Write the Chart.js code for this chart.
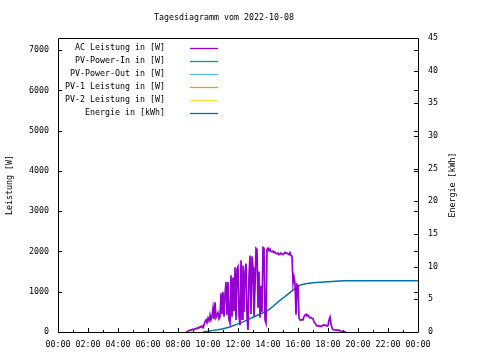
<!DOCTYPE html>
<html>
<head>
<meta charset="utf-8">
<script src="https://cdn.jsdelivr.net/npm/chart.js@4/dist/chart.umd.min.js"></script>
<style>
  html, body { margin: 0; padding: 0; background: #fff; }
  #c { display: block; }
</style>
</head>
<body>
<canvas id="c" width="480" height="360"></canvas>
<script>
// ---- data ----
const chartTitle = 'Tagesdiagramm vom 2022-10-08';
const leftAxisTitle = 'Leistung [W]';
const rightAxisTitle = 'Energie [kWh]';
const seriesLabels = [
  'AC Leistung in [W]',
  'PV-Power-In in [W]',
  'PV-Power-Out in [W]',
  'PV-1 Leistung in [W]',
  'PV-2 Leistung in [W]',
  'Energie in [kWh]'
];
const seriesColors = ['#9400d3', '#009e73', '#56b4e9', '#e69f00', '#f0e442', '#0072b2'];
const xTickMinutes = [0,120,240,360,480,600,720,840,960,1080,1200,1320,1440];
const leftTicks = [0,1000,2000,3000,4000,5000,6000,7000];
const rightTicks = [0,5,10,15,20,25,30,35,40,45];

// AC power, sampled every 4 minutes from 08:32
const acStartMinute = 512;
const acStepMinutes = 4;
const acValues = [
  0,10,20,30,50,40,60,70,60,80,90,80,110,100,130,120,150,110,170,
  260,300,230,340,280,420,300,380,590,320,740,360,420,480,330,380,
  960,450,990,380,930,1240,420,1240,300,220,1410,380,1350,520,1610,
  300,1560,1620,420,170,1780,320,1650,500,1500,1700,380,50,1400,1900,
  450,1880,1600,400,1100,2080,2050,600,1500,355,1150,500,2100,2080,300,
  220,2050,2080,2020,2060,2000,1990,2010,1970,1980,1950,1940,1960,1920,
  1930,1960,1940,1920,1950,1980,1950,1960,1940,1920,1970,1900,1880,1210,
  1360,1200,430,1180,1150,350,300,290,310,300,380,420,440,400,420,380,
  350,360,340,330,250,220,180,150,160,140,150,130,150,170,180,160,170,
  150,160,300,370,200,100,60,50,50,40,50,40,50,30,20,10,15,10,5,0
];

// cumulative energy (kWh)
const energyMinutes = [580,600,620,640,660,680,700,720,740,760,780,800,820,840,860,880,900,920,940,956,970,990,1020,1050,1080,1110,1140,1440];
const energyValues  = [0,0.1,0.25,0.35,0.5,0.7,0.95,1.25,1.55,1.9,2.25,2.6,2.95,3.3,3.9,4.6,5.2,5.8,6.4,6.9,7.2,7.4,7.55,7.62,7.7,7.78,7.85,7.85];

const leftMax = 7300;
const rightMax = 45;

// ---- build ----
const acData = acValues.map((v, i) => ({ x: acStartMinute + i * acStepMinutes, y: v }));
const energyData = energyValues.map((v, i) => ({ x: energyMinutes[i], y: v }));

const FONT = '"DejaVu Sans Mono", "Liberation Mono", monospace';
const FSIZE = 8.3;

function fmtTime(m) {
  const h = Math.floor(m / 60) % 24;
  const mm = m % 60;
  return String(h).padStart(2, '0') + ':' + String(mm).padStart(2, '0');
}

const datasets = seriesLabels.map((lbl, i) => ({
  label: lbl,
  data: i === 0 ? acData : (i === 5 ? energyData : []),
  borderColor: seriesColors[i],
  backgroundColor: seriesColors[i],
  borderWidth: i === 0 ? 1.7 : 1.5,
  pointRadius: 0,
  tension: 0,
  fill: false,
  yAxisID: i === 5 ? 'y2' : 'y'
}));

const framePlugin = {
  id: 'frame',
  afterDraw(chart) {
    const ctx = chart.ctx;
    const a = chart.chartArea;
    const xs = chart.scales.x, ys = chart.scales.y, y2 = chart.scales.y2;
    ctx.save();
    ctx.strokeStyle = '#000';
    ctx.lineWidth = 1;
    ctx.beginPath();
    ctx.rect(Math.round(a.left) + 0.5, Math.round(a.top) + 0.5,
             Math.round(a.right - a.left), Math.round(a.bottom - a.top));
    ctx.stroke();
    // x ticks (inward), major every 2h, minor every hour
    ctx.beginPath();
    for (let h = 0; h <= 24; h++) {
      const px = Math.round(xs.getPixelForValue(h * 60)) + 0.5;
      const len = (h % 2 === 0) ? 4 : 2;
      ctx.moveTo(px, a.bottom);
      ctx.lineTo(px, a.bottom - len);
    }
    // left ticks + mirror
    leftTicks.forEach(v => {
      const py = Math.round(ys.getPixelForValue(v)) + 0.5;
      ctx.moveTo(a.left, py); ctx.lineTo(a.left + 4, py);
      ctx.moveTo(a.right, py); ctx.lineTo(a.right - 4, py);
    });
    rightTicks.forEach(v => {
      const py = Math.round(y2.getPixelForValue(v)) + 0.5;
      ctx.moveTo(a.right, py); ctx.lineTo(a.right - 4, py);
    });
    ctx.stroke();

    // title
    ctx.fillStyle = '#000';
    ctx.font = FSIZE + 'px ' + FONT;
    ctx.textAlign = 'center';
    ctx.textBaseline = 'middle';
    ctx.fillText(chartTitle, 224, 18);

    // axis titles (rotated, reading bottom-to-top)
    ctx.save();
    ctx.translate(10, (a.top + a.bottom) / 2);
    ctx.rotate(-Math.PI / 2);
    ctx.fillText(leftAxisTitle, 0, 0);
    ctx.restore();
    ctx.save();
    ctx.translate(453, (a.top + a.bottom) / 2);
    ctx.rotate(-Math.PI / 2);
    ctx.fillText(rightAxisTitle, 0, 0);
    ctx.restore();

    // legend (gnuplot style: right-aligned text, then line sample)
    ctx.textAlign = 'right';
    chart.data.datasets.forEach((ds, i) => {
      const yy = a.top + 10 + i * 13;
      ctx.fillStyle = '#000';
      ctx.fillText(ds.label, 165, yy);
      ctx.strokeStyle = ds.borderColor;
      ctx.lineWidth = 1.3;
      ctx.beginPath();
      ctx.moveTo(190, Math.round(yy) + 0.5);
      ctx.lineTo(218, Math.round(yy) + 0.5);
      ctx.stroke();
    });
    ctx.restore();
  }
};

Chart.defaults.font.family = FONT;
Chart.defaults.font.size = FSIZE;
Chart.defaults.color = '#000';

new Chart(document.getElementById('c'), {
  type: 'line',
  data: { datasets },
  options: {
    responsive: false,
    animation: false,
    layout: { padding: { top: 38, left: 0, right: 0, bottom: 0 } },
    plugins: { legend: { display: false }, title: { display: false }, tooltip: { enabled: false } },
    scales: {
      x: {
        type: 'linear', min: 0, max: 1440,
        grid: { display: false, drawTicks: false },
        border: { display: false },
        afterBuildTicks(s) { s.ticks = xTickMinutes.map(v => ({ value: v })); },
        ticks: { autoSkip: false, maxRotation: 0, padding: 8, callback: v => fmtTime(v) },
        afterFit(s) { s.height = 28; }
      },
      y: {
        type: 'linear', position: 'left', min: 0, max: leftMax,
        grid: { display: false, drawTicks: false },
        border: { display: false },
        afterBuildTicks(s) { s.ticks = leftTicks.map(v => ({ value: v })); },
        ticks: { padding: 9, callback: v => String(v) },
        afterFit(s) { s.width = 58; }
      },
      y2: {
        type: 'linear', position: 'right', min: 0, max: rightMax,
        grid: { display: false, drawTicks: false },
        border: { display: false },
        afterBuildTicks(s) { s.ticks = rightTicks.map(v => ({ value: v })); },
        ticks: { padding: 10, callback: v => String(v) },
        afterFit(s) { s.width = 62; }
      }
    }
  },
  plugins: [framePlugin]
});
</script>
</body>
</html>
